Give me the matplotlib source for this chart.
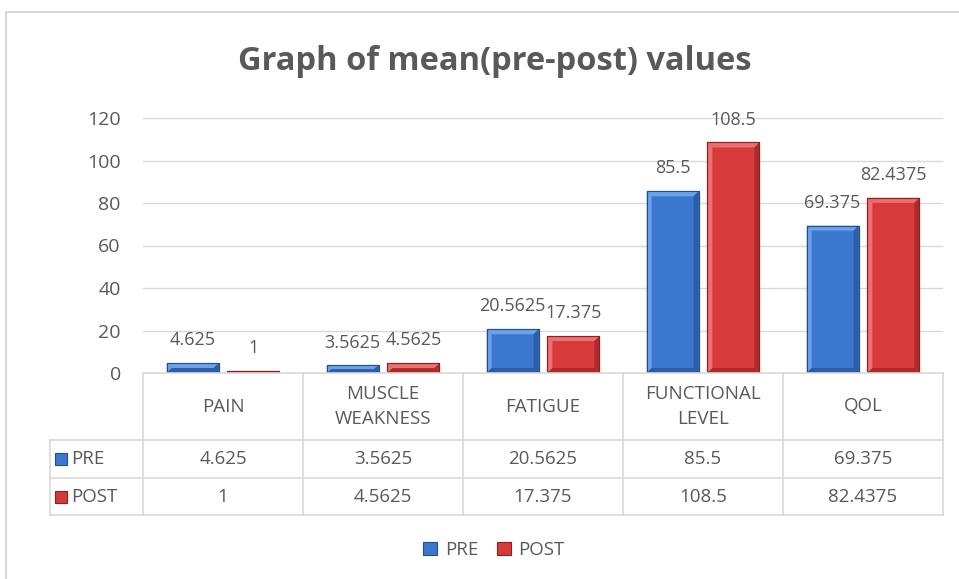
import numpy as np
import matplotlib.pyplot as plt
from matplotlib.patches import Rectangle, Polygon

plt.rcParams['font.family'] = ['Open Sans', 'DejaVu Sans']

# data
categories = ['PAIN', 'MUSCLE\nWEAKNESS', 'FATIGUE', 'FUNCTIONAL\nLEVEL', 'QOL']
pre_vals = [4.625, 3.5625, 20.5625, 85.5, 69.375]
post_vals = [1, 4.5625, 17.375, 108.5, 82.4375]
series_names = ['PRE', 'POST']
yticks = [0, 20, 40, 60, 80, 100, 120]

txt_col = '#595959'
grid_col = '#d9d9d9'
# face, edge, light bevel, dark bevel
blue = ('#3a78d0', '#234f8c', '#74aaf0', '#2a5aa0')
red = ('#d63a3a', '#8e1f1f', '#f27a7a', '#a82828')

W, H = 959, 579
fig = plt.figure(figsize=(W / 100, H / 100), dpi=100)

def fpos(x0, y0, x1, y1):
    # pixel box (top-left origin) -> figure fraction
    return [x0 / W, 1 - y1 / H, (x1 - x0) / W, (y1 - y0) / H]

# outer chart border
fig.patches.append(Rectangle((6 / W, -0.02), 1.0, 1 - 12 / H + 0.02, transform=fig.transFigure,
                             fill=False, edgecolor='#d0d0d0', lw=1.2))

fig.text(0.516, 1 - 62 / H, 'Graph of mean(pre-post) values', ha='center', va='center',
         fontsize=23.5, fontweight='bold', color=txt_col)

# bar area
ax = fig.add_axes(fpos(143, 118, 943, 373))
x = np.arange(len(categories))
off, bw = 0.19, 0.325
b1 = ax.bar(x - off, pre_vals, bw, color=blue[0], edgecolor=blue[1], lw=0.8, zorder=3, label=series_names[0])
b2 = ax.bar(x + off, post_vals, bw, color=red[0], edgecolor=red[1], lw=0.8, zorder=3, label=series_names[1])

# bevel look: lighter top/left, darker bottom/right
bx, by = 5 / 160, 5 * 120 / 255
for bars, pal in ((b1, blue), (b2, red)):
    for r in bars:
        x0, w, h = r.get_x(), r.get_width(), r.get_height()
        x1 = x0 + w
        dy = min(by, h / 2)
        dx = min(bx, w / 2)
        pieces = [
            ([(x0, h), (x1, h), (x1 - dx, h - dy), (x0 + dx, h - dy)], pal[2]),
            ([(x0, 0), (x0, h), (x0 + dx, h - dy), (x0 + dx, dy)], pal[2]),
            ([(x1, 0), (x1, h), (x1 - dx, h - dy), (x1 - dx, dy)], pal[3]),
            ([(x0, 0), (x1, 0), (x1 - dx, dy), (x0 + dx, dy)], pal[3]),
        ]
        for pts, c in pieces:
            ax.add_patch(Polygon(pts, closed=True, facecolor=c, edgecolor='none', zorder=4, alpha=0.85))
        ax.add_patch(Rectangle((x0, 0), w, h, fill=False, edgecolor=pal[1], lw=0.8, zorder=5))

for bars in (b1, b2):
    for r in bars:
        h = r.get_height()
        ax.annotate(f'{h:g}', (r.get_x() + r.get_width() / 2, h), xytext=(0, 10),
                    textcoords='offset points', ha='center', va='bottom', fontsize=13, color=txt_col)

ax.set_xlim(-0.5, 4.5)
ax.set_ylim(0, 120)
ax.set_yticks(yticks)
ax.set_xticks([])
ax.tick_params(axis='y', length=0, labelsize=14, labelcolor=txt_col, pad=16)
ax.grid(axis='y', color=grid_col, lw=1, zorder=0)
for s in ax.spines.values():
    s.set_visible(False)

# data table below the bars
tx0 = -0.5 - 93 / 160
axt = fig.add_axes(fpos(50, 373, 943, 515))
axt.set_xlim(tx0, 4.5)
axt.set_ylim(515, 373)
axt.axis('off')
rows = [373, 440, 478, 515]
lk = dict(color=grid_col, lw=1.2, clip_on=False)
axt.plot([-0.5, 4.5], [373, 373], **lk)
for yy in rows[1:]:
    axt.plot([tx0, 4.5], [yy, yy], **lk)
for xx in np.arange(-0.5, 4.6, 1.0):
    axt.plot([xx, xx], [373, 515], **lk)
axt.plot([tx0, tx0], [440, 515], **lk)

for i, c in enumerate(categories):
    axt.text(i, (rows[0] + rows[1]) / 2, c, ha='center', va='center', fontsize=13.5,
             color=txt_col, linespacing=1.45)
for r, (name, vals, pal) in enumerate(((series_names[0], pre_vals, blue),
                                       (series_names[1], post_vals, red))):
    yc = (rows[r + 1] + rows[r + 2]) / 2
    for i, v in enumerate(vals):
        axt.text(i, yc, f'{v:g}', ha='center', va='center', fontsize=13.5, color=txt_col)
    axt.add_patch(Rectangle((tx0 + 0.03, yc - 6), 0.075, 12, facecolor=pal[0], edgecolor=pal[1], lw=0.8))
    axt.text(tx0 + 0.135, yc, name, ha='left', va='center', fontsize=13.5, color=txt_col)

fig.legend(handles=[b1, b2], loc='center', bbox_to_anchor=(0.515, 1 - 550 / H), ncol=2,
           frameon=False, fontsize=13.5, handlelength=0.75, handleheight=0.75, handletextpad=0.4,
           columnspacing=1.0, labelcolor=txt_col)

fig.savefig('out.png', dpi=100)
